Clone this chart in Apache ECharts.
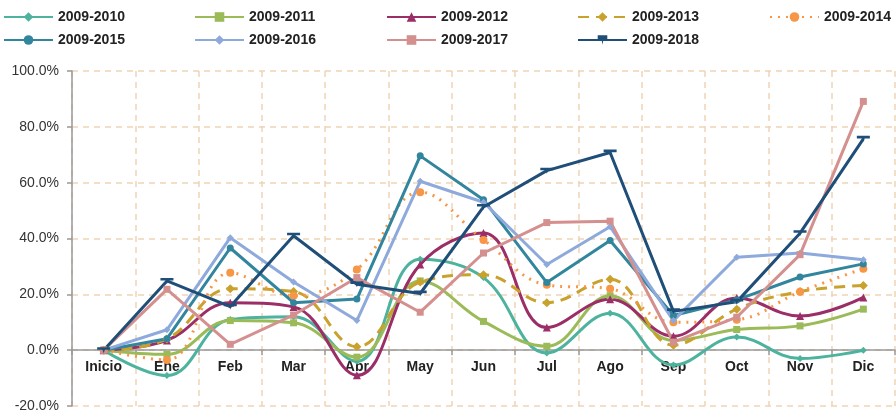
<!DOCTYPE html>
<html>
<head>
<meta charset="utf-8">
<script src="https://cdn.jsdelivr.net/npm/echarts@6/dist/echarts.min.js"></script>
<style>
  html, body { margin: 0; padding: 0; background: #fff; }
  #chart { width: 896px; height: 412px; }
</style>
</head>
<body>
<div id="chart"></div>
<script>
const months = ['Inicio', 'Ene', 'Feb', 'Mar', 'Abr', 'May', 'Jun', 'Jul', 'Ago', 'Sep', 'Oct', 'Nov', 'Dic'];
const yTicks = [-20, 0, 20, 40, 60, 80, 100];

const s2010 = [0, -9.1, 11, 12, -4, 32.6, 26, -1, 13.2, -5.3, 4.7, -3, 0];
const s2011 = [0, -1.5, 10.6, 9.8, -2.5, 24.8, 10.3, 1.4, 19.5, 3.5, 7.4, 8.7, 14.7];
const s2012 = [0, 3.5, 17, 15.5, -9, 30.7, 42, 8.1, 18.2, 5, 18.7, 12.2, 18.9];
const s2013 = [0, 4, 22, 21, 1.2, 24.4, 27, 17, 25.4, 1.8, 14.7, 21, 23.2];
const s2014 = [0, -3.5, 27.7, 19.5, 28.9, 56.6, 39.5, 23.4, 22, 10, 10.9, 20.9, 29.2];
const s2015 = [0, 4.1, 36.6, 17, 18.3, 69.6, 53.9, 24.2, 39.3, 12.4, 18, 26.2, 30.9];
const s2016 = [0, 7.3, 40.3, 24.4, 10.6, 60.5, 53, 30.7, 44.2, 10.6, 33.3, 34.8, 32.4];
const s2017 = [0, 21.8, 2.1, 12.6, 26, 13.6, 34.8, 45.7, 46.2, 2.9, 11.8, 34.2, 89.1];
const s2018 = [0, 24.8, 15.6, 41, 23.6, 20.3, 51.3, 64.3, 70.8, 13.9, 17.3, 41.9, 75.7];

const dashMarker = 'path://M0,0 L12,0 L12,2.2 L7.2,2.2 L6,5 L4.8,2.2 L0,2.2 Z';

const seriesDefs = [
  {name: '2009-2010', data: s2010, color: '#4DB39E', symbol: 'diamond', size: 7, smooth: true, type: 'solid'},
  {name: '2009-2011', data: s2011, color: '#9BBB59', symbol: 'rect', size: 7, smooth: true, type: 'solid'},
  {name: '2009-2012', data: s2012, color: '#9B2D67', symbol: 'triangle', size: 8, smooth: true, type: 'solid'},
  {name: '2009-2013', data: s2013, color: '#C9A12D', symbol: 'diamond', size: 9, smooth: true, type: [11, 7]},
  {name: '2009-2014', data: s2014, color: '#F79646', symbol: 'circle', size: 8, smooth: true, type: [2, 6]},
  {name: '2009-2015', data: s2015, color: '#31859C', symbol: 'circle', size: 7, smooth: false, type: 'solid'},
  {name: '2009-2016', data: s2016, color: '#8EA9DB', symbol: 'diamond', size: 7, smooth: false, type: 'solid'},
  {name: '2009-2017', data: s2017, color: '#D4908E', symbol: 'rect', size: 7, smooth: false, type: 'solid'},
  {name: '2009-2018', data: s2018, color: '#1F4E79', symbol: dashMarker, size: [13, 6], smooth: false, type: 'solid'}
];

const legendCols = [
  {left: 3, names: ['2009-2010', '2009-2015']},
  {left: 194, names: ['2009-2011', '2009-2016']},
  {left: 386, names: ['2009-2012', '2009-2017']},
  {left: 577, names: ['2009-2013', '2009-2018']},
  {left: 769, names: ['2009-2014']}
];

// plot area
const gridTop = 71, gridBottom = 6;
const gridH = 412 - gridTop - gridBottom;
const yMin = yTicks[0], yMax = yTicks[yTicks.length - 1];
// put the category axis (line, ticks, labels) on the 0% line
const xOffset = -gridH * (0 - yMin) / (yMax - yMin);

const chart = echarts.init(document.getElementById('chart'));
chart.setOption({
  animation: false,
  textStyle: {fontFamily: 'Liberation Sans, Arial, sans-serif'},
  legend: legendCols.map(c => ({
    left: c.left,
    top: 10,
    padding: 0,
    orient: 'vertical',
    itemWidth: 49,
    itemHeight: 12,
    itemGap: 9,
    selectedMode: false,
    data: c.names,
    textStyle: {fontSize: 14, fontWeight: 'bold', color: '#222', fontFamily: 'Liberation Sans, Arial, sans-serif'}
  })),
  grid: {left: 72, right: 1, top: gridTop, bottom: gridBottom, containLabel: false, outerBoundsMode: 'none'},
  xAxis: {
    type: 'category',
    data: months,
    boundaryGap: true,
    position: 'bottom',
    offset: xOffset,
    axisLine: {onZero: false, lineStyle: {color: '#999', width: 1.5}},
    axisTick: {show: true, length: 5, lineStyle: {color: '#999', width: 1.5}},
    axisLabel: {interval: 0, margin: 10, fontSize: 14, fontWeight: 'bold', color: '#222'},
    splitLine: {show: true, interval: 0, lineStyle: {color: '#F0D3B6', width: 1.5, type: [6, 5]}}
  },
  yAxis: {
    type: 'value',
    min: yMin,
    max: yMax,
    interval: 20,
    axisLine: {show: true, lineStyle: {color: '#999', width: 1.5}},
    axisTick: {show: true, length: 5, lineStyle: {color: '#999', width: 1.5}},
    axisLabel: {margin: 13, fontSize: 14, color: '#333', formatter: v => v.toFixed(1) + '%'},
    splitLine: {show: true, lineStyle: {color: '#F0D3B6', width: 1.5, type: [6, 5]}}
  },
  series: seriesDefs.map(s => ({
    name: s.name,
    type: 'line',
    data: s.data,
    smooth: s.smooth ? 0.4 : false,
    symbol: s.symbol,
    symbolSize: s.size,
    showAllSymbol: true,
    color: s.color,
    itemStyle: {color: s.color},
    lineStyle: {color: s.color, width: 3, type: s.type}
  }))
});
</script>
</body>
</html>
